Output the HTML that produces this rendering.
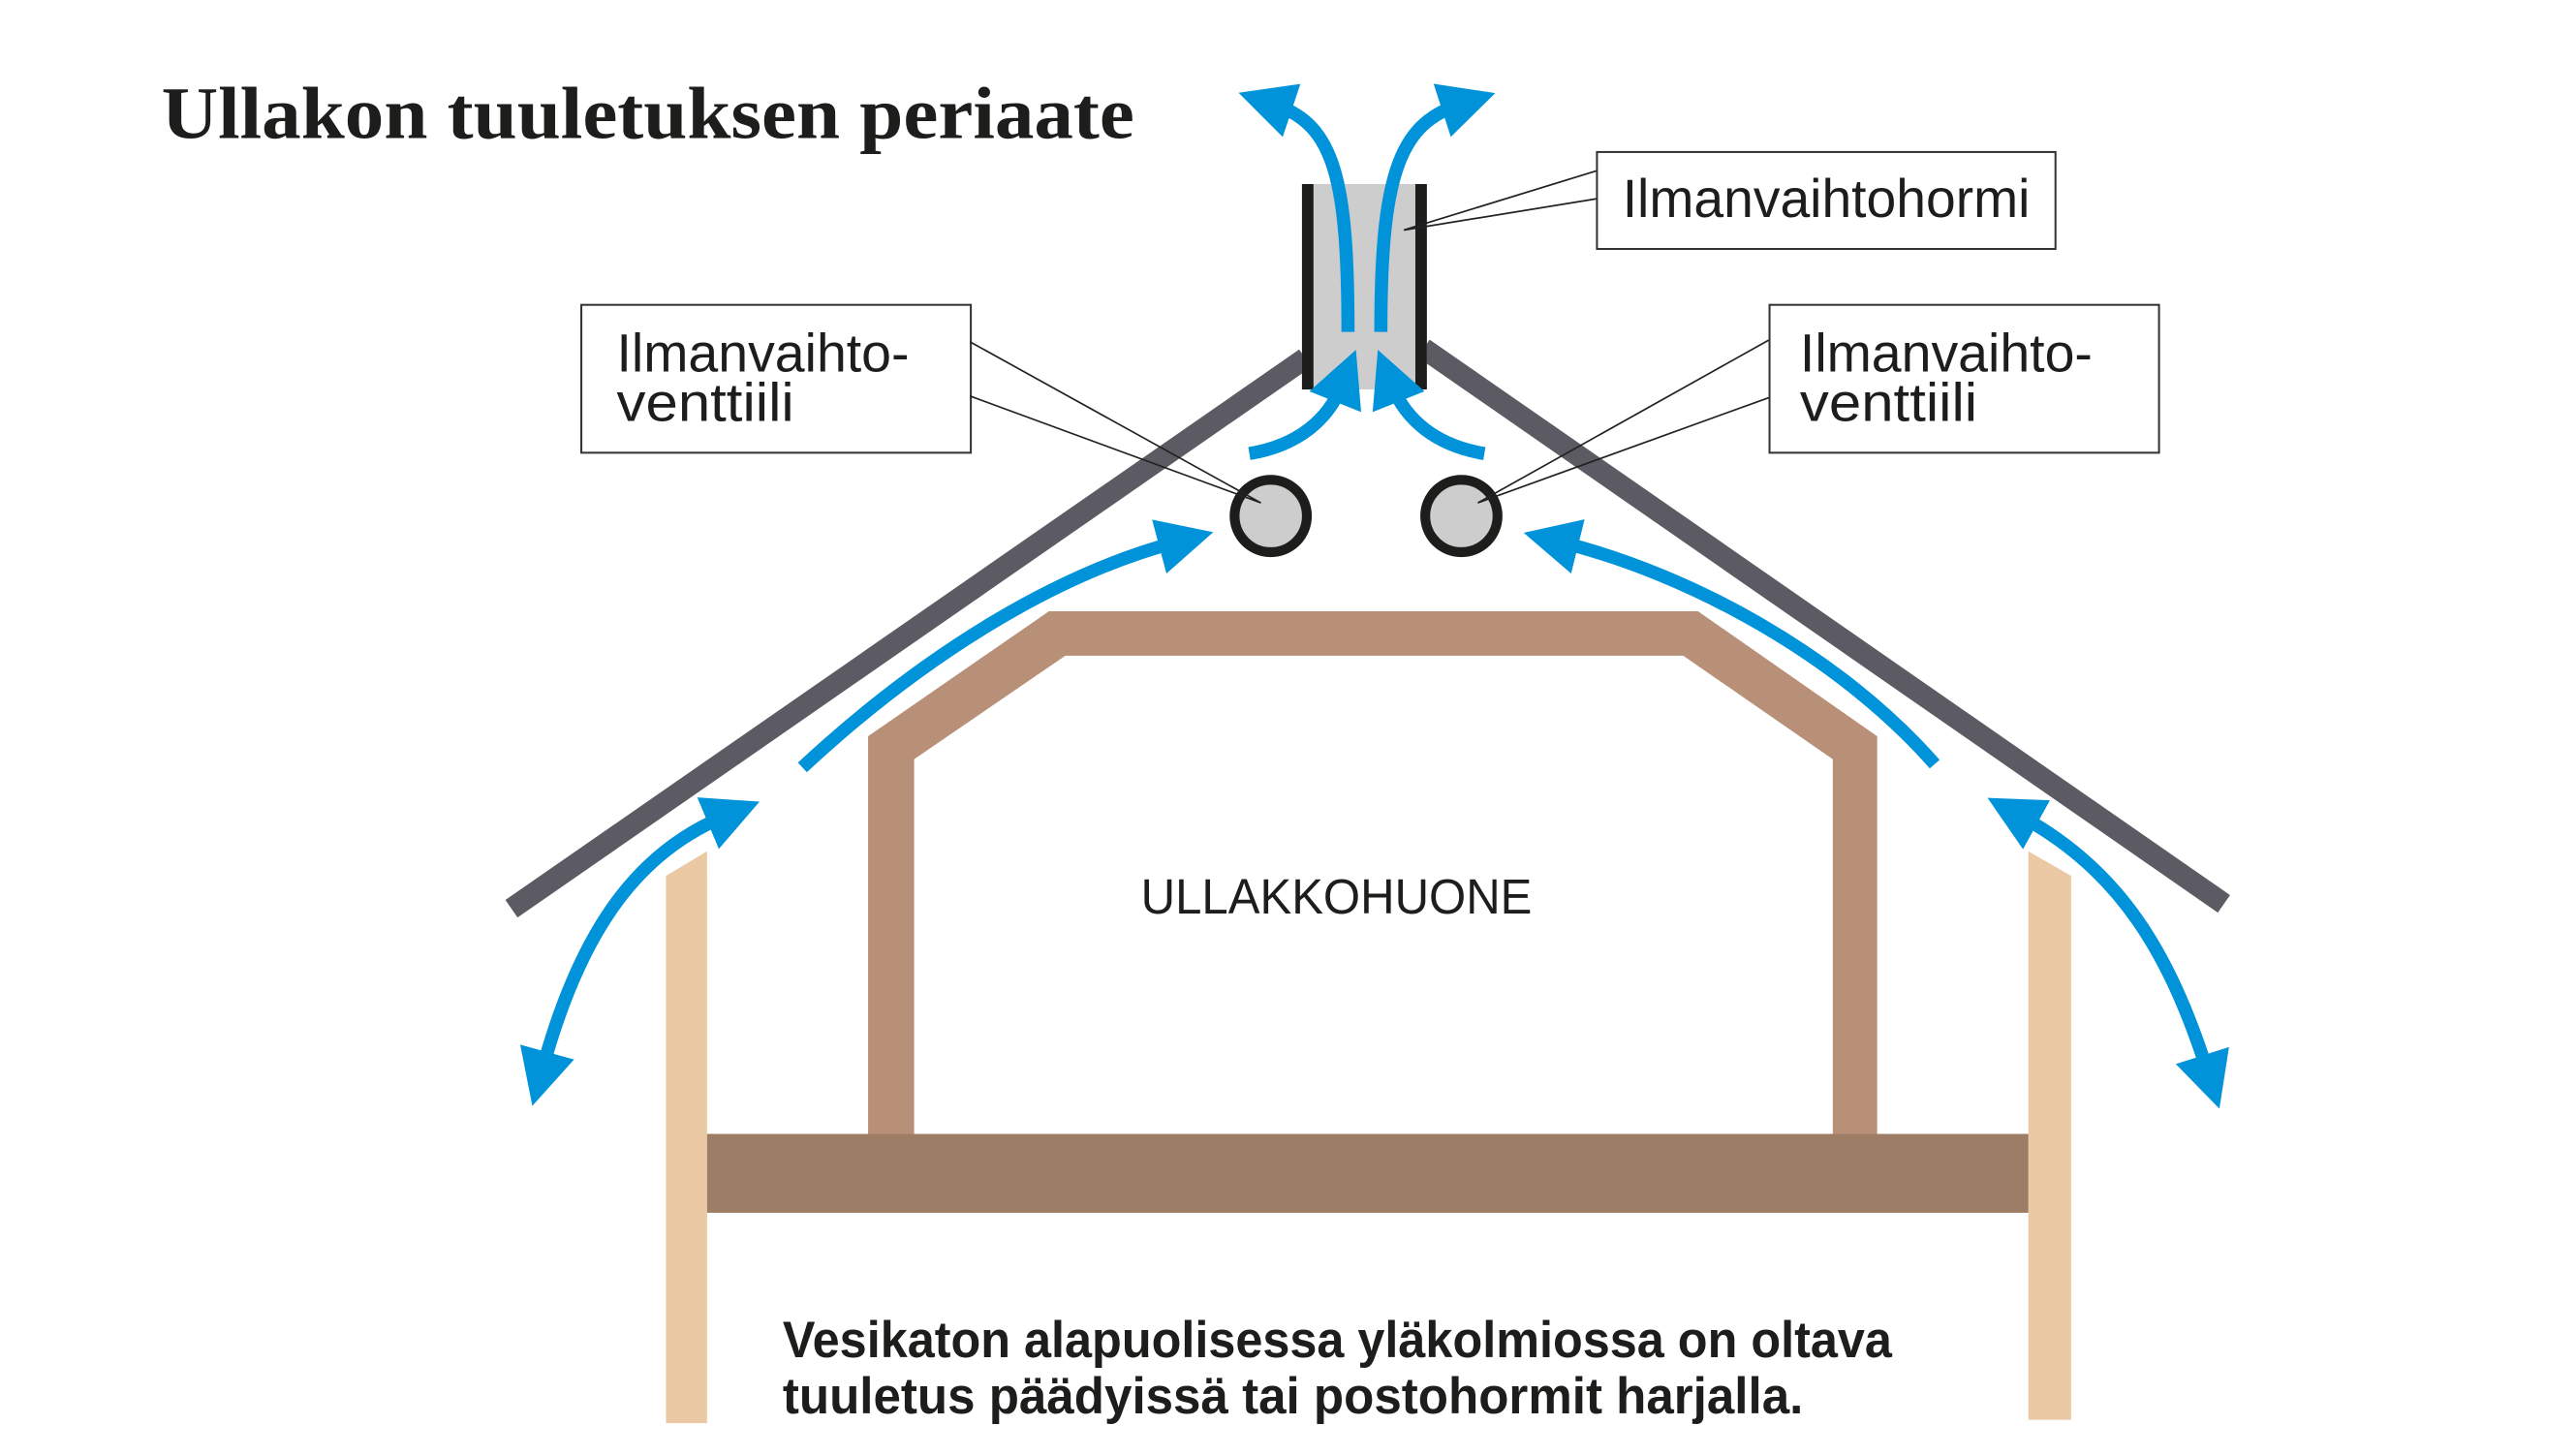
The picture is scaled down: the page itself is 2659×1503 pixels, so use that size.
<!DOCTYPE html>
<html><head><meta charset="utf-8"><style>
html,body{margin:0;padding:0;background:#fff;}
svg{display:block;}
</style></head><body>
<svg width="2659" height="1503" viewBox="0 0 1567 886" xmlns="http://www.w3.org/2000/svg">
<defs>
<marker id="ah" viewBox="0 0 10 10" refX="3" refY="5" markerWidth="34" markerHeight="34" markerUnits="userSpaceOnUse" orient="auto-start-reverse">
<path d="M0,0 L10,5 L0,10 z" fill="#0093d9"/>
</marker>
</defs>
<rect width="1567" height="886" fill="#fff"/>
<text x="98" y="84" font-family="Liberation Serif, serif" font-weight="bold" font-size="45" fill="#1d1d1b" textLength="592" lengthAdjust="spacingAndGlyphs">Ullakon tuuletuksen periaate</text>

<polygon points="405,533 430,518 430,866 405,866" fill="#ebc9a4"/>
<polygon points="1234,518 1260,533 1260,864 1234,864" fill="#ebc9a4"/>
<rect x="430" y="690" width="804" height="48" fill="#9e7d67"/>
<path d="M528,690 L528,448 L638,372 L1033,372 L1142,448 L1142,690 L1115,690 L1115,462 L1024,399 L648,399 L556,462 L556,690 Z" fill="#b88f77"/>

<line x1="311" y1="553" x2="794" y2="218" stroke="#5c5a63" stroke-width="13"/>
<line x1="866" y1="212" x2="1353" y2="550" stroke="#5c5a63" stroke-width="13"/>

<rect x="792" y="112" width="76" height="125" fill="#cdcdcd"/>
<rect x="792" y="112" width="7" height="125" fill="#1d1d1b"/>
<rect x="861" y="112" width="7" height="125" fill="#1d1d1b"/>

<g fill="none" stroke="#0093d9" stroke-width="8">
<path d="M820,202 C820,110 812,76 776,64" marker-end="url(#ah)"/>
<path d="M840,202 C840,110 850,76 887,64" marker-end="url(#ah)"/>
<path d="M760,276 C790,271 808,255 816,235" marker-end="url(#ah)"/>
<path d="M903,276 C873,271 855,255 847,235" marker-end="url(#ah)"/>
<path d="M488,467 C560,400 640,350 715,330" marker-end="url(#ah)"/>
<path d="M1177,465 C1120,400 1030,350 950,330" marker-end="url(#ah)"/>
<path d="M330,650 C352,570 385,520 440,497" marker-start="url(#ah)" marker-end="url(#ah)"/>
<path d="M1230,497 C1290,530 1320,580 1343,652" marker-start="url(#ah)" marker-end="url(#ah)"/>
</g>

<circle cx="773" cy="314" r="22" fill="#cdcdcd" stroke="#1d1d1b" stroke-width="6"/>
<circle cx="889" cy="314" r="22" fill="#cdcdcd" stroke="#1d1d1b" stroke-width="6"/>

<g fill="#fff" stroke="#333" stroke-width="1.2">
<rect x="353.5" y="185.5" width="237" height="90"/>
<rect x="1076.5" y="185.5" width="237" height="90"/>
<rect x="971.5" y="92.5" width="279" height="59"/>
</g>
<g stroke="#222" stroke-width="1" fill="none">
<polyline points="590,208 767,306 590,241"/>
<polyline points="1076,207 899,306 1076,242"/>
<polyline points="971,104 854,140 971,121"/>
</g>
<g font-family="Liberation Sans, sans-serif" font-size="33" fill="#1d1d1b">
<text x="375" y="226" textLength="178" lengthAdjust="spacingAndGlyphs">Ilmanvaihto-</text>
<text x="375" y="256" textLength="108" lengthAdjust="spacingAndGlyphs">venttiili</text>
<text x="1095" y="226" textLength="178" lengthAdjust="spacingAndGlyphs">Ilmanvaihto-</text>
<text x="1095" y="256" textLength="108" lengthAdjust="spacingAndGlyphs">venttiili</text>
<text x="987" y="132" textLength="248" lengthAdjust="spacingAndGlyphs">Ilmanvaihtohormi</text>
<text x="694" y="556" font-size="30" textLength="238" lengthAdjust="spacingAndGlyphs">ULLAKKOHUONE</text>
</g>
<g font-family="Liberation Sans, sans-serif" font-size="31" font-weight="bold" fill="#1d1d1b">
<text x="476" y="826" textLength="675" lengthAdjust="spacingAndGlyphs">Vesikaton alapuolisessa yläkolmiossa on oltava</text>
<text x="476" y="860" textLength="621" lengthAdjust="spacingAndGlyphs">tuuletus päädyissä tai postohormit harjalla.</text>
</g>
</svg>
</body></html>
